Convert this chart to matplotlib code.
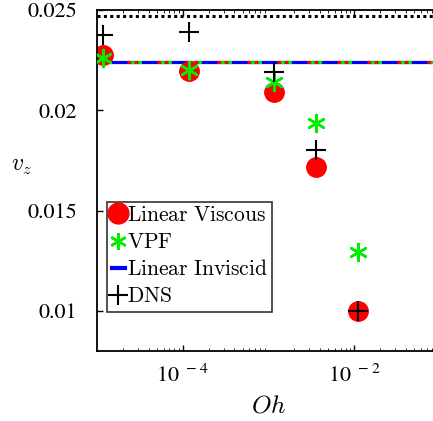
import matplotlib
matplotlib.use('Agg')
import matplotlib.pyplot as plt
from matplotlib.lines import Line2D

plt.rcParams['font.family'] = 'serif'
plt.rcParams['font.serif'] = ['STIXGeneral', 'Liberation Serif', 'DejaVu Serif']
plt.rcParams['mathtext.fontset'] = 'cm'
plt.rcParams['lines.scale_dashes'] = False

# Ohnesorge numbers and vertical velocity from each model
oh = [1.17e-5, 1.17e-4, 1.15e-3, 3.6e-3, 1.12e-2]
vz_viscous = [0.02276, 0.02197, 0.02091, 0.01719, 0.01000]
vz_vpf = [0.02261, 0.02199, 0.02141, 0.01938, 0.01295]
vz_dns = [0.02375, 0.02390, 0.02191, 0.01802, 0.01000]
vz_inviscid = 0.02241
vz_limit = 0.0247

green = '#00ee00'

fig = plt.figure(figsize=(4.33, 4.21), dpi=100)
ax = fig.add_axes([97/433, 70/421, 343/433, 341/421])

xl = [1e-5, 1e-1]
# inviscid level drawn as overlapping blue / red / green dashes
ax.plot(xl, [vz_inviscid]*2, color='blue', lw=2.3, solid_capstyle='butt')
ax.plot(xl, [vz_inviscid]*2, color='red', lw=2.3,
        linestyle=(0, (2.6, 2.6, 2.6, 13.8)), dash_capstyle='butt')
ax.plot(xl, [vz_inviscid]*2, color=green, lw=2.3,
        linestyle=(-2.6, (2.6, 2.6, 2.6, 13.8)), dash_capstyle='butt')
ax.plot(xl, [vz_limit]*2, color='black', lw=2.2, linestyle=(0, (2.2, 2.4)),
        dash_capstyle='butt')

ax.plot(oh, vz_viscous, 'o', color='red', ms=14, mec='red')
ax.scatter(oh, vz_vpf, marker=(6, 2, 0), s=150, color=green, lw=1.8, zorder=3)
ax.plot(oh, vz_dns, '+', color='black', ms=14, mew=1.5, zorder=4)

# legend entries
handles = [
    Line2D([], [], marker='o', color='red', ls='none', ms=15),
    Line2D([], [], marker=(6, 2, 0), color=green, ls='none', ms=12, mew=1.8),
    Line2D([], [], color='blue', lw=3),
    Line2D([], [], marker='+', color='black', ls='none', ms=15, mew=1.5),
]
labels = [r'$\mathrm{Linear\ Viscous}$', r'$\mathrm{VPF}$',
          r'$\mathrm{Linear\ Inviscid}$', r'$\mathrm{DNS}$']
leg = ax.legend(handles, labels, loc='lower left', bbox_to_anchor=(0.03, 0.115),
                fontsize=15.5, frameon=True, fancybox=False, edgecolor='black',
                handlelength=0.6, handletextpad=0.1, borderpad=0.2,
                labelspacing=0.33, borderaxespad=0)
leg.get_frame().set_linewidth(1.2)

ax.set_xscale('log')
ax.set_xlim(xl)
ax.set_ylim(0.008, 0.025)
ax.set_xticks([1e-4, 1e-2])
ax.set_xticklabels([r'$\mathregular{10^{\ -4}}$', r'$\mathregular{10^{\ -2}}$'])
ax.set_yticks([0.01, 0.015, 0.02, 0.025])
ax.set_yticklabels(['0.01', '0.015', '0.02', '0.025'])
ax.tick_params(direction='in', labelsize=16, width=1, length=4, top=True, right=True)
ax.tick_params(which='minor', direction='in', top=True, length=2.5)
ax.tick_params(axis='x', pad=10)
ax.tick_params(axis='y', pad=14)
for s in ax.spines.values():
    s.set_linewidth(1.3)

ax.set_xlabel(r'$Oh$', fontsize=18, labelpad=5)
ax.set_ylabel(r'$v_z$', fontsize=17, rotation=0)
ax.yaxis.set_label_coords(-0.22, 0.51)

fig.savefig('out.png', dpi=100)
